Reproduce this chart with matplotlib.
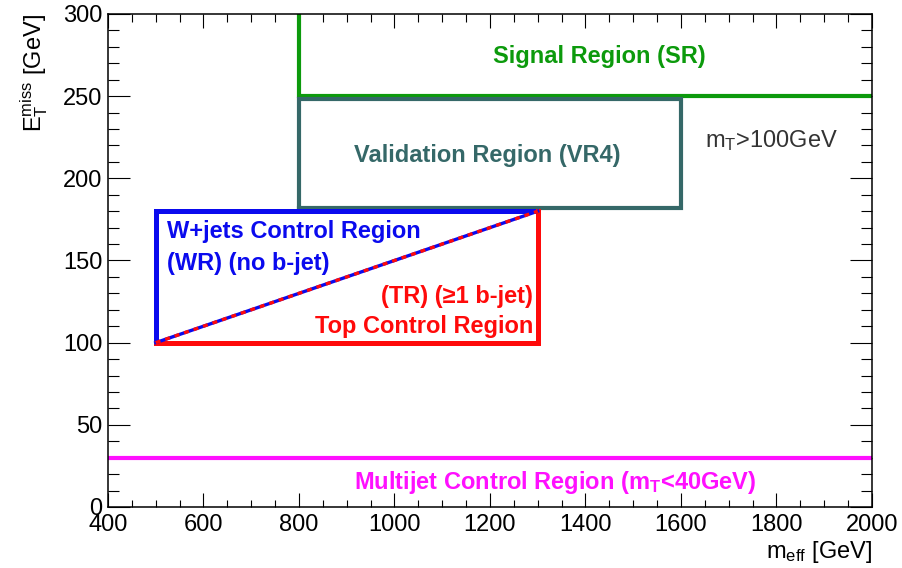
import matplotlib
matplotlib.use("Agg")
import matplotlib.pyplot as plt
from matplotlib.ticker import MultipleLocator

plt.rcParams['font.family'] = ['Liberation Sans', 'DejaVu Sans']
plt.rcParams['mathtext.fontset'] = 'custom'
plt.rcParams['mathtext.rm'] = 'Liberation Sans'
plt.rcParams['mathtext.it'] = 'Liberation Sans'
plt.rcParams['mathtext.bf'] = 'Liberation Sans:bold'

# limites de los ejes
x_range = [400, 2000]
y_range = [0, 300]

# Signal Region (esquina en 800, 250)
sr_x = [800, 800, 2000]
sr_y = [300, 250, 250]

# Validation Region (VR4)
vr_x = [800, 1600]
vr_y = [182, 248]

# W+jets / Top control regions
wr_x = [1300, 500, 500]
wr_y = [180, 180, 100]
tr_x = [500, 1300, 1300]
tr_y = [100, 100, 180]
diag_x = [500, 1300]
diag_y = [100, 180]

# Multijet control region
mj_y = 30

green = '#0c9a0c'
teal = '#356868'
blue = '#0a0aee'
red = '#ff0a0a'
magenta = '#ff10ff'

fig = plt.figure(figsize=(9.02, 5.68), dpi=100)
ax = fig.add_axes([0.1197, 0.1074, 0.847, 0.868])

ax.plot(sr_x, sr_y, color=green, lw=3.0, solid_joinstyle='miter')
ax.plot([vr_x[0], vr_x[1], vr_x[1], vr_x[0], vr_x[0]],
        [vr_y[0], vr_y[0], vr_y[1], vr_y[1], vr_y[0]],
        color=teal, lw=3.0, solid_joinstyle='miter')
ax.plot(wr_x, wr_y, color=blue, lw=3.6, solid_joinstyle='miter')
ax.plot(tr_x, tr_y, color=red, lw=3.6, solid_joinstyle='miter')
ax.plot(diag_x, diag_y, color=blue, lw=2.4)
ax.plot(diag_x, diag_y, color=red, lw=2.4, ls=(0, (1.5, 1.5)))
ax.plot(x_range, [mj_y, mj_y], color=magenta, lw=3.0)

fs = 17
bold = dict(fontsize=fs, fontweight='bold', va='baseline')
ax.text(1430, 270, 'Signal Region (SR)', color=green, ha='center', **bold)
ax.text(1195, 210, 'Validation Region (VR4)', color=teal, ha='center', **bold)
ax.text(1789, 219, r'm$_\mathrm{T}$>100GeV', color='#333333', fontsize=fs,
        ha='center', va='baseline')
ax.text(523, 163.6, 'W+jets Control Region', color=blue, ha='left', **bold)
ax.text(523, 144.2, '(WR) (no b-jet)', color=blue, ha='left', **bold)
ax.text(1290, 124.1, '(TR) (≥1 b-jet)', color=red, ha='right', **bold)
ax.text(1290, 105.8, 'Top Control Region', color=red, ha='right', **bold)
ax.text(1337, 10.9, r'Multijet Control Region (m$_\mathbf{T}$<40GeV)', color=magenta,
        ha='center', **bold)

ax.set_xlim(x_range)
ax.set_ylim(y_range)
ax.xaxis.set_major_locator(MultipleLocator(200))
ax.xaxis.set_minor_locator(MultipleLocator(50))
ax.yaxis.set_major_locator(MultipleLocator(50))
ax.yaxis.set_minor_locator(MultipleLocator(10))
ax.tick_params(which='both', direction='in', top=True, right=True, labelsize=17, width=0.8)
ax.tick_params(axis='x', which='major', length=10, pad=5)
ax.tick_params(axis='x', which='minor', length=5.4)
ax.tick_params(axis='y', which='major', length=16, pad=4)
ax.tick_params(axis='y', which='minor', length=8)
for s in ax.spines.values():
    s.set_linewidth(1.1)

fig.text(0.9667, 0.028, r'm$_\mathrm{eff}$ [GeV]', fontsize=17, ha='right', va='center')
fig.text(0.038, 0.975, r'E$_\mathrm{T}^\mathrm{miss}$ [GeV]', fontsize=17, rotation=90,
         ha='center', va='top')

fig.savefig('out.png', dpi=100)
